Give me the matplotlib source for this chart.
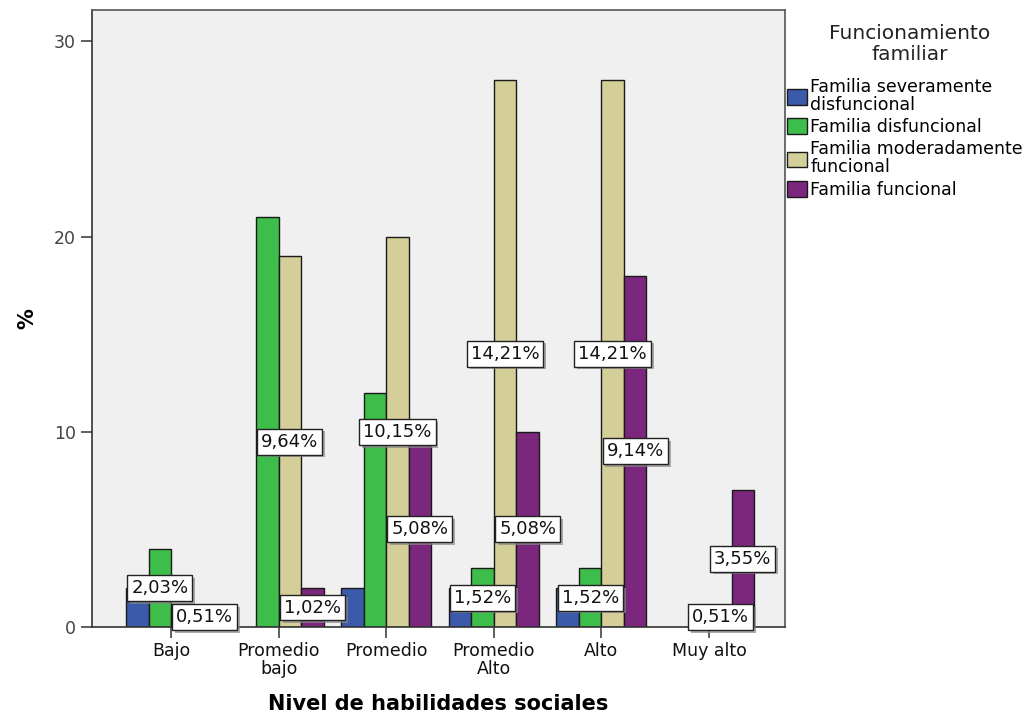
import matplotlib.pyplot as plt
import matplotlib.patheffects as pe
import numpy as np

# counts per skill level (bars) -- y axis shows counts, labels show % of N
categories = ["Bajo", "Promedio\nbajo", "Promedio", "Promedio\nAlto", "Alto", "Muy alto"]
series_names = ["Familia severamente\ndisfuncional", "Familia disfuncional",
                "Familia moderadamente\nfuncional", "Familia funcional"]
severa = [2, 0, 2, 2, 2, 0]
disfuncional = [4, 21, 12, 3, 3, 0]
moderada = [1, 19, 20, 28, 28, 1]
funcional = [1, 2, 10, 10, 18, 7]
n_total = 197

# which bars carry a visible percentage label in the original
shown_labels = [
    [False, False, False, False, False, False],
    [True, False, False, True, True, False],
    [False, True, True, True, True, True],
    [True, True, True, True, True, True],
]

colors = ["#3C5AAA", "#3DBE4B", "#D4CF98", "#7B277D"]

plt.rcParams["font.family"] = "DejaVu Sans"

fig = plt.figure(figsize=(10.27, 7.14), dpi=100)
ax = fig.add_axes([0.0896, 0.1218, 0.6748, 0.8642])
ax.set_facecolor("#F0F0F0")

x = np.arange(len(categories))
w = 0.209
all_series = [severa, disfuncional, moderada, funcional]
handles = []
for i, (vals, col) in enumerate(zip(all_series, colors)):
    xs = x + (i - 1.5) * w
    v = np.array(vals, dtype=float)
    v[v == 0] = np.nan
    b = ax.bar(xs, v, width=w, color=col, edgecolor="#1a1a1a", linewidth=1.0,
               label=series_names[i], zorder=2)
    handles.append(b)

# percentage labels (white box with a small grey drop shadow)
shadow = [pe.withSimplePatchShadow(offset=(2, -2), shadow_rgbFace="#888888", alpha=0.7)]
for i, vals in enumerate(all_series):
    for j, val in enumerate(vals):
        if not shown_labels[i][j] or val == 0:
            continue
        pct = f"{val / n_total * 100:.2f}%".replace(".", ",")
        xx = x[j] + (i - 1.5) * w
        ax.text(xx, val / 2, pct, ha="center", va="center", fontsize=13,
                color="#111111", zorder=4,
                bbox=dict(boxstyle="square,pad=0.22", fc="white", ec="#222222", lw=1,
                          path_effects=shadow))

ax.set_xlim(-0.734, 5.706)
ax.set_ylim(0, 31.6)
ax.set_yticks([0, 10, 20, 30])
ax.set_xticks(x)
ax.set_xticklabels(categories, fontsize=12.5, color="#111111", linespacing=1.0)
ax.tick_params(axis="y", labelsize=12.5, labelcolor="#444444", length=8, width=1.2,
               color="#444444", direction="out")
ax.tick_params(axis="x", length=8, width=1.2, color="#444444", direction="out", pad=3)
for s in ax.spines.values():
    s.set_color("#555555")
    s.set_linewidth(1.2)
ax.spines["left"].set_color("#333333")
ax.spines["bottom"].set_color("#333333")

ax.set_ylabel("%", fontsize=15, fontweight="bold", labelpad=12)
ax.set_xlabel("Nivel de habilidades sociales", fontsize=15, fontweight="bold", labelpad=11)

# legend title as separate text so the gap to the entries matches
fig.text(910 / 1027, 1 - 44 / 714, "Funcionamiento\nfamiliar", ha="center", va="center",
         fontsize=14.5, color="#222222", linespacing=1.1)

leg = ax.legend(handles=handles, loc="upper left", bbox_to_anchor=(1.0, 0.893),
                frameon=False, fontsize=12.5, handlelength=1.15, handleheight=1.0,
                handletextpad=0.2, labelspacing=0.25, borderaxespad=0.0, borderpad=0.1)
for t in leg.get_texts():
    t.set_linespacing(1.0)

fig.savefig("out.png", dpi=100)
